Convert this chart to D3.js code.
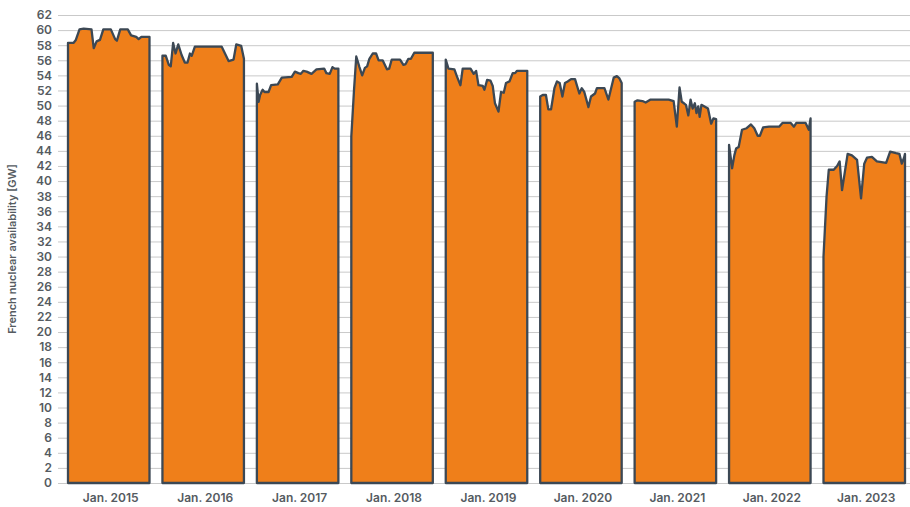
<!DOCTYPE html>
<html>
<head>
<meta charset="utf-8">
<script src="https://cdn.jsdelivr.net/npm/d3@7"></script>
<style>
  body { margin: 0; background: #fff; }
  #chart text { font-family: "Inter", "Open Sans", sans-serif; fill: #555b61; }
</style>
</head>
<body>
<div id="chart"></div>
<script>
// weekly French nuclear availability, [week of year, GW]
const years = [2015, 2016, 2017, 2018, 2019, 2020, 2021, 2022, 2023];
const yTicks = d3.range(0, 63, 2);

const gw2015 = [[1, 58.3], [4.4, 58.3], [5.9, 58.7], [8.2, 60.1], [10.8, 60.2], [15.7, 60.1], [17.1, 57.6], [18.9, 58.5], [21, 58.7], [23.1, 60.1], [27.8, 60.1], [30.5, 58.8], [31.6, 58.6], [33.7, 60.1], [38.4, 60.1], [40.5, 59.3], [43.7, 59.1], [45.2, 58.8], [46.9, 59.1], [52, 59.1]];
const gw2016 = [[1, 56.6], [3.1, 56.6], [5, 55.4], [6.2, 55.2], [7.7, 58.3], [9.2, 56.9], [10.9, 58.1], [13, 56.7], [15, 55.7], [16.7, 55.7], [18.2, 56.9], [19.3, 56.6], [21.3, 57.8], [38.1, 57.8], [42.4, 55.9], [45.5, 56.1], [47.2, 58.1], [50.3, 57.9], [52, 56.2]];
const gw2017 = [[1, 52.9], [2.1, 50.5], [3, 51.4], [4.6, 52.1], [5.8, 51.8], [8.3, 51.8], [9.9, 52.7], [14.1, 52.8], [16.6, 53.7], [22.8, 53.8], [24.8, 54.5], [27, 54.3], [28.5, 54.2], [30.1, 54.6], [32.1, 54.5], [35.2, 54.2], [38.3, 54.8], [43.1, 54.9], [44.5, 54.3], [46.6, 54.2], [48.3, 55.1], [49.7, 54.9], [52, 54.9]];
const gw2018 = [[1, 45.9], [2.7, 52.1], [4.1, 56.5], [6.1, 55.1], [7.8, 54], [9.5, 55], [10.9, 55.2], [12.3, 56.2], [14.4, 56.9], [16.5, 56.9], [18.1, 56], [20.6, 56], [23.3, 54.8], [24.7, 54.9], [26.3, 56.1], [31.5, 56.1], [33.6, 55.4], [35, 55.5], [36.7, 56.2], [38.3, 56.2], [40.4, 57], [52, 57]];
const gw2019 = [[1, 56.1], [2.7, 54.9], [6.4, 54.8], [8.1, 53.8], [10.2, 52.7], [11.6, 54.9], [16.5, 54.9], [18.5, 54.2], [20, 54.6], [21.5, 52.7], [24.2, 52.6], [25.2, 52.1], [26.9, 53.4], [29, 53.3], [30.4, 52.6], [31.8, 50.3], [34, 49.2], [35.6, 51.8], [37.3, 51.7], [38.7, 53], [40.9, 53.2], [42.9, 54.3], [44.4, 54.3], [45.6, 54.6], [52, 54.6]];
const gw2020 = [[1, 51.2], [2.6, 51.4], [4.6, 51.4], [6.1, 49.5], [7.8, 49.5], [9.9, 52.3], [11.5, 53.2], [13.2, 53], [14.9, 51.2], [16.5, 53], [18.2, 53.2], [20.3, 53.5], [22.8, 53.5], [25.5, 51.6], [27, 52.3], [28.6, 51.8], [31.2, 49.8], [32.8, 51.2], [35.3, 51.6], [36.5, 52.3], [41.2, 52.3], [43.7, 50.8], [47, 53.7], [49, 53.9], [50.6, 53.6], [52, 53]];
const gw2021 = [[1, 50.5], [2.8, 50.7], [5.9, 50.6], [7.9, 50.4], [11, 50.8], [22.3, 50.8], [25.4, 50.6], [27.4, 47.2], [29.1, 52.4], [30.5, 50.5], [31.9, 50.3], [33.1, 50.1], [34.6, 48.7], [36, 50.8], [37.3, 49.6], [38.7, 50.3], [39.7, 49], [40.8, 49.9], [41.7, 48.5], [42.8, 50.1], [46.9, 49.6], [48.9, 47.6], [50.3, 48.3], [52, 48.2]];
const gw2022 = [[1, 44.8], [2.9, 41.7], [4.3, 43.4], [5.4, 44.3], [7, 44.5], [9.1, 46.8], [12, 47], [14.7, 47.5], [16.8, 47], [18.9, 46], [20.3, 46], [22.3, 47.1], [26, 47.2], [32.3, 47.2], [34.4, 47.7], [39.6, 47.7], [41.6, 47.2], [43.1, 47.7], [48.9, 47.7], [50.9, 46.8], [52, 48.3]];
const gw2023 = [[1, 30], [2.9, 37.9], [4.3, 41.5], [7.4, 41.5], [9.5, 42], [11.1, 42.6], [12.6, 38.8], [16.1, 43.6], [18.8, 43.4], [22, 42.8], [24.5, 37.7], [26.5, 42.3], [28.2, 43.1], [31.3, 43.2], [34.4, 42.6], [40.2, 42.4], [42.7, 43.9], [46.4, 43.7], [48.5, 43.6], [50, 42.3], [51.4, 43.1], [52, 43.6]];

const series = [gw2015, gw2016, gw2017, gw2018, gw2019, gw2020, gw2021, gw2022, gw2023];

const W = 910, H = 507;
const margin = { top: 15, right: 0, bottom: 24, left: 58 };
const width = W - margin.left - margin.right;
const height = H - margin.top - margin.bottom;

const svg = d3.select("#chart")
  .append("svg")
  .attr("width", W)
  .attr("height", H)
  .append("g")
  .attr("transform", `translate(${margin.left},${margin.top})`);

const y = d3.scaleLinear()
  .domain([0, 62])
  .range([height, 0]);

// one panel per year
const x = d3.scaleBand()
  .domain(years)
  .range([10, 847])
  .paddingInner(0.137)
  .paddingOuter(0);

const xWeek = d3.scaleLinear()
  .domain([1, 52])
  .range([0, x.bandwidth()]);

// grid + y ticks
svg.append("g")
  .attr("class", "y-axis")
  .call(d3.axisLeft(y).tickValues(yTicks).tickSize(-width).tickPadding(6))
  .call(g => g.select(".domain").remove())
  .call(g => g.selectAll(".tick line").attr("stroke", "#c9c9c9").attr("stroke-width", 1))
  .call(g => g.selectAll(".tick text").style("font-size", "12px").style("font-weight", "600"));

// y title
svg.append("text")
  .attr("transform", `translate(${-42},${height / 2}) rotate(-90)`)
  .attr("text-anchor", "middle")
  .style("font-size", "11px")
  .style("font-weight", "600")
  .text("French nuclear availability [GW]");

const area = d3.area()
  .x(d => xWeek(d[0]))
  .y0(y(0))
  .y1(d => y(d[1]));

const panels = svg.selectAll(".panel")
  .data(years)
  .join("g")
  .attr("class", "panel")
  .attr("transform", d => `translate(${x(d)},0)`);

panels.append("path")
  .attr("d", (d, i) => area(series[i]))
  .attr("fill", "#ef7f1a")
  .attr("stroke", "#3c4854")
  .attr("stroke-width", 2.3)
  .attr("stroke-linejoin", "round");

// x labels
panels.append("text")
  .attr("x", x.bandwidth() / 2 + 2)
  .attr("y", height + 19)
  .attr("text-anchor", "middle")
  .style("font-size", "12px")
  .style("font-weight", "600")
  .text(d => "Jan. " + d);
</script>
</body>
</html>
